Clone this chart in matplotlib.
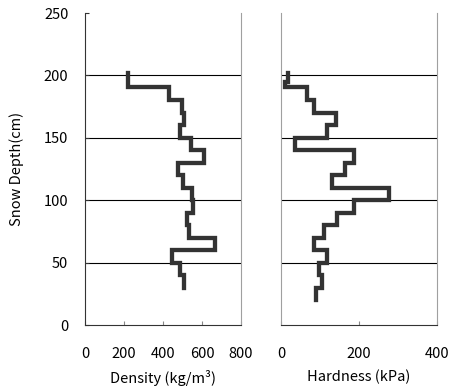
import numpy as np
import matplotlib.pyplot as plt

plt.rcParams['font.family'] = ['Noto Sans CJK JP', 'DejaVu Sans']

# layer boundaries (cm, top to bottom) and values per layer
dens_bounds = [202, 191, 180, 170, 160, 150, 140, 130, 120, 110, 100, 90, 80, 70, 60, 50, 40, 30]
density = [219, 432, 496, 507, 485, 542, 610, 479, 500, 549, 553, 525, 535, 667, 444, 485, 507]

hard_bounds = [202, 195, 191, 180, 170, 160, 150, 140, 130, 120, 110, 100, 90, 80, 70, 60, 50, 40, 30, 20]
hardness = [17, 10, 66, 85, 141, 119, 36, 186, 165, 130, 276, 188, 143, 111, 85, 119, 98, 105, 90]

depth_ticks = [0, 50, 100, 150, 200, 250]
dens_ticks = [0, 200, 400, 600, 800]
hard_ticks = [0, 200, 400]


def profile(bounds, vals):
    # vertical segment for each layer, joined by horizontal steps
    xs = np.repeat(vals, 2)
    ys = np.column_stack([bounds[:-1], bounds[1:]]).ravel()
    return xs, ys


fig = plt.figure(figsize=(4.51, 3.89), dpi=100)
ax1 = fig.add_axes([0.1885, 0.1645, 0.346, 0.802])
ax2 = fig.add_axes([0.623, 0.1645, 0.346, 0.802])

line_col = '#333333'
for ax, bounds, vals, ticks in [(ax1, dens_bounds, density, dens_ticks),
                                (ax2, hard_bounds, hardness, hard_ticks)]:
    x, y = profile(bounds, vals)
    ax.plot(x, y, color=line_col, lw=3.1, solid_joinstyle='miter', zorder=3)
    ax.set_xlim(ticks[0], ticks[-1])
    ax.set_ylim(0, 250)
    ax.set_xticks(ticks)
    ax.set_yticks(depth_ticks)
    for d in depth_ticks[1:-1]:
        ax.axhline(d, color='black', lw=0.8, zorder=1)
    ax.spines['top'].set_visible(False)
    ax.spines['right'].set_color('#a0a0a0')
    ax.spines['bottom'].set_color('#333333')
    ax.tick_params(axis='x', direction='in', length=3, pad=16, labelsize=10.5,
                   color='#888888')
    ax.tick_params(axis='y', direction='in', length=3, pad=12, labelsize=10.5,
                   color='#333333')

ax1.spines['left'].set_color('#333333')
ax2.spines['left'].set_color('#a0a0a0')
ax2.tick_params(axis='y', left=False, labelleft=False)

ax1.set_ylabel('Snow Depth(cm)', fontsize=10.5, labelpad=14)
ax1.set_xlabel('Density (kg/m³)', fontsize=10.5, labelpad=6)
ax2.set_xlabel('Hardness (kPa)', fontsize=10.5, labelpad=6)

fig.savefig('out.png', dpi=100)
